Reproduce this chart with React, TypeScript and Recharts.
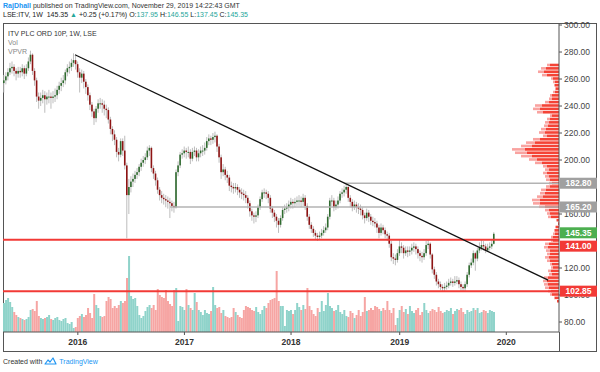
import { BarChart, ComposedChart, Bar, Cell, XAxis, YAxis, ReferenceLine } from "recharts";

// weekly closes, Apr 2015 .. Nov 2019 (open = previous close)
const FIRST_OPEN = 257;
const CLOSE = [
  259, 262, 265, 268, 269, 266, 264, 266, 265, 268,
  264, 268, 273, 278, 266, 259, 247, 244, 246, 248,
  245, 247, 247, 246, 247, 248, 252, 255, 257, 259,
  265, 268, 269, 272, 274, 271, 265, 261, 264, 258,
  254, 248, 241, 236, 231, 238, 242, 242, 241, 238,
  237, 230, 223, 219, 215, 206, 204, 214, 207, 196,
  174, 180, 184, 186, 189, 191, 195, 198, 200, 202,
  207, 209, 194, 190, 185, 178, 174, 172, 171, 170,
  169, 168, 166, 165, 191, 196, 204, 205, 207, 206,
  206, 201, 206, 207, 202, 205, 207, 207, 209, 214,
  216, 215, 217, 218, 210, 202, 191, 193, 189, 187,
  181, 180, 179, 180, 178, 176, 175, 174, 172, 168,
  162, 159, 158, 159, 165, 171, 176, 176, 175, 172,
  164, 161, 158, 155, 152, 157, 163, 164, 165, 167,
  169, 168, 169, 170, 170, 169, 172, 166, 158, 152,
  149, 146, 144, 143, 144, 146, 148, 150, 158, 170,
  170, 165, 167, 170, 175, 176, 178, 180, 172, 169,
  165, 167, 165, 164, 163, 159, 157, 161, 158, 155,
  154, 153, 150, 146, 150, 148, 145, 144, 138, 128,
  127, 126, 131, 136, 135, 131, 133, 132, 133, 135,
  136, 134, 131, 129, 128, 131, 137, 138, 130, 119,
  115, 110, 108, 106, 105, 106, 107, 109, 110, 109,
  110, 111, 108, 106, 105, 108, 115, 122, 124, 131,
  127, 133, 135, 137, 136, 133, 135, 136, 137.95, 145.35,
];
const HIGH = [
  263, 265, 268, 272, 273, 271, 268, 269, 269, 271,
  270, 271, 276, 281, 279, 268, 261, 250, 250, 252,
  251, 250, 252, 250, 251, 253, 255, 258, 261, 263,
  267, 271, 273, 275, 279, 277, 273, 268, 267, 266,
  260, 256, 250, 243, 238, 240, 245, 246, 245, 244,
  241, 239, 232, 225, 222, 217, 209, 216, 216, 218,
  198, 186, 188, 190, 192, 194, 197, 201, 203, 205,
  210, 211, 210, 196, 192, 187, 180, 177, 175, 174,
  173, 172, 170, 169, 193, 199, 206, 208, 210, 209,
  210, 208, 209, 210, 209, 208, 210, 211, 213, 217,
  219, 218, 220, 221, 219, 212, 204, 197, 195, 192,
  189, 184, 183, 183, 182, 180, 179, 178, 177, 174,
  170, 164, 161, 162, 167, 173, 178, 179, 178, 177,
  174, 166, 163, 160, 157, 159, 165, 167, 168, 170,
  172, 171, 172, 173, 174, 173, 175, 174, 168, 160,
  154, 151, 148, 146, 147, 149, 151, 153, 160, 172,
  174, 172, 170, 173, 177, 179, 181, 183, 181, 174,
  171, 170, 169, 168, 167, 165, 161, 164, 163, 160,
  158, 157, 155, 152, 153, 152, 150, 147, 146, 140,
  131, 130, 134, 141, 139, 137, 136, 136, 136, 138,
  139, 138, 136, 133, 132, 134, 140, 141, 139, 131,
  121, 117, 112, 110, 108, 109, 110, 112, 113, 112,
  114, 114, 113, 110, 108, 110, 117, 124, 127, 133,
  132, 135, 139, 141, 140, 138, 138, 139, 141, 146.55,
];
const LOW = [
  250, 256, 259, 263, 264, 262, 259, 261, 261, 262,
  260, 262, 266, 271, 263, 255, 243, 238, 240, 242,
  235, 241, 242, 238, 242, 243, 245, 249, 251, 254,
  256, 262, 264, 266, 269, 267, 261, 250, 257, 253,
  249, 244, 237, 232, 226, 228, 235, 238, 235, 233,
  231, 227, 219, 214, 211, 202, 199, 202, 203, 193,
  142, 160, 176, 180, 183, 186, 188, 192, 195, 197,
  200, 203, 191, 186, 181, 175, 170, 168, 167, 165,
  164, 157, 162, 161, 164, 188, 194, 201, 202, 201,
  202, 197, 199, 203, 199, 199, 202, 203, 204, 207,
  211, 211, 212, 213, 206, 198, 186, 188, 185, 183,
  177, 176, 175, 176, 174, 172, 171, 170, 168, 164,
  158, 155, 153, 154, 157, 163, 169, 172, 171, 168,
  161, 157, 154, 150, 146, 150, 155, 160, 161, 162,
  164, 164, 165, 166, 166, 165, 166, 163, 155, 149,
  146, 143, 141, 140, 141, 142, 144, 146, 148, 156,
  166, 162, 163, 164, 168, 172, 173, 175, 169, 165,
  162, 163, 161, 160, 159, 156, 153, 155, 154, 152,
  151, 150, 146, 142, 144, 145, 142, 140, 135, 125,
  123, 122, 124, 129, 131, 127, 129, 128, 129, 130,
  132, 130, 127, 125, 124, 126, 129, 134, 127, 116,
  112, 107, 105, 103.5, 103, 103, 104, 105, 107, 106,
  107, 108, 105, 103, 102.9, 103, 106, 113, 120, 122,
  118, 125, 131, 133, 133, 131, 132, 133, 134, 137.45,
];
// weekly volume, millions of shares
const VOLUME = [
  29, 32, 34, 30, 25, 20, 17, 15, 14, 13,
  12, 13, 15, 22, 23, 21, 31, 16, 14, 13,
  14, 15, 17, 13, 12, 14, 15, 12, 11, 13,
  14, 9, 8, 10, 4, 5, 14, 16, 18, 15,
  17, 24, 19, 14, 38, 27, 24, 16, 15, 16,
  31, 35, 33, 24, 26, 24, 27, 31, 29, 31,
  54, 76, 36, 33, 34, 26, 17, 14, 16, 21,
  25, 27, 24, 27, 22, 43, 37, 35, 34, 42,
  31, 28, 26, 42, 44, 11, 26, 25, 22, 43,
  27, 24, 22, 39, 30, 22, 20, 17, 22, 19,
  18, 21, 45, 27, 24, 25, 19, 22, 16, 15,
  14, 15, 24, 20, 17, 15, 14, 22, 26, 25,
  24, 22, 21, 25, 20, 18, 22, 26, 24, 29,
  32, 33, 34, 61, 31, 26, 26, 6, 22, 21,
  22, 18, 22, 29, 25, 22, 27, 23, 44, 26,
  22, 18, 16, 24, 20, 31, 21, 27, 39, 26,
  24, 21, 22, 27, 20, 18, 22, 16, 15, 21,
  19, 14, 17, 22, 16, 20, 35, 21, 22, 24,
  22, 26, 25, 23, 21, 24, 22, 31, 22, 19,
  24, 7, 14, 22, 26, 20, 23, 18, 26, 21,
  19, 22, 24, 17, 20, 29, 22, 19, 21, 23,
  22, 20, 25, 21, 19, 20, 22, 21, 24, 18,
  21, 23, 22, 24, 20, 18, 22, 20, 21, 24,
  22, 24, 19, 20, 22, 21, 19, 22, 21, 20,
];

const YEAR_TICKS = [36, 88, 140, 193, 245];
const YEAR_LABELS = ["2016", "2017", "2018", "2019", "2020"];
// 140 and 180 sit fully under the price tags
const PRICE_TICKS = [80, 100, 120, 160, 200, 220, 240, 260, 280, 300];

// volume profile rows (price level -> down / up volume)
const VP_ROWS = [
  104, 106.5, 109, 111.5, 114, 116.5, 119, 121.5, 124, 126.5,
  129, 131.5, 134, 136.5, 139, 141.5, 144, 146.5, 149, 151.5,
  154, 156.5, 159, 161.5, 164, 166.5, 169, 171.5, 174, 176.5,
  179, 181.5, 184, 186.5, 189, 191.5, 194, 196.5, 199, 201.5,
  204, 206.5, 209, 211.5, 214, 216.5, 219, 221.5, 224, 226.5,
  229, 231.5, 234, 236.5, 239, 241.5, 244, 246.5, 249, 251.5,
  254, 256.5, 259, 261.5, 264, 266.5, 269, 271.5, 274, 276.5,
  279,
];
const VP_DOWN = [
  9, 13, 15, 12, 6, 4, 4, 3, 4, 7,
  7, 10, 17, 19, 16, 7, 9, 10, 11, 13,
  14, 12, 19, 24, 27, 34, 32, 27, 22, 17,
  12, 10, 12, 10, 9, 7, 9, 13, 14, 16,
  19, 19, 14, 10, 9, 8, 2, 1, 3, 4,
  4, 6, 6, 10, 11, 9, 9, 10, 9, 7,
  6, 8, 7, 11, 12, 11, 10, 8, 7, 4,
  2,
];
const VP_UP = [
  3, 5, 6, 5, 2, 2, 1, 1, 2, 2,
  3, 4, 7, 7, 6, 2, 3, 4, 4, 5,
  6, 4, 7, 9, 11, 13, 12, 11, 8, 7,
  4, 4, 4, 4, 4, 3, 4, 5, 5, 6,
  8, 7, 6, 4, 3, 3, 1, 0, 1, 1,
  2, 2, 2, 4, 4, 4, 3, 4, 3, 2,
  2, 3, 3, 4, 4, 4, 4, 3, 2, 1,
  0,
];

const SUPPORT = [141, 102.85];
const RESIST = [
  { price: 182.8, from: 166 },
  { price: 165.2, from: 81 },
];
const TREND = [
  { x: 34.6, y: 278 },
  { x: 265.4, y: 111 },
];
const LAST = 145.35;

const X_DOMAIN = [-0.5, 270.7];
const Y_DOMAIN = [72.6, 301.5];
const FONT = "'Liberation Sans', Arial, sans-serif";
const RED = "#f23a36";
const TEAL = "#26a69a";

const weeks = CLOSE.map((c, i) => {
  const o = i === 0 ? FIRST_OPEN : CLOSE[i - 1];
  return {
    i,
    open: o,
    close: c,
    high: HIGH[i],
    low: LOW[i],
    range: [LOW[i], HIGH[i]],
    vol: VOLUME[i],
    up: c >= o,
  };
});

const profile = VP_ROWS.map((p, k) => ({ p, down: VP_DOWN[k], up: VP_UP[k] }));

const Candle = (props: any) => {
  const { x, y, width, height, payload } = props;
  const { open, close, high, low } = payload;
  const h = Math.abs(height);
  const top = height < 0 ? y + height : y;
  const ppu = h / (high - low || 1);
  const bodyTop = top + (high - Math.max(open, close)) * ppu;
  const bodyH = Math.max(1, Math.abs(open - close) * ppu);
  const cx = x + width / 2;
  return (
    <g>
      <line x1={cx} x2={cx} y1={top} y2={top + h} stroke="#bdbdbd" strokeWidth={1} />
      <rect
        x={x}
        y={bodyTop}
        width={width}
        height={bodyH}
        fill={close >= open ? "#2f6b2f" : "#8e1414"}
      />
    </g>
  );
};

// tag on the price scale; shift moves it off the line when two tags collide
const PriceTag = (props: any) => {
  const { viewBox, text, color, shift = 0 } = props;
  const y = viewBox.y + shift;
  const x = viewBox.x + viewBox.width;
  return (
    <g>
      <rect x={x + 1} y={y - 5.5} width={37} height={11} fill={color} />
      <text
        x={x + 19.5}
        y={y}
        dy="0.35em"
        textAnchor="middle"
        fill="#fff"
        fontSize={8.5}
        fontWeight="bold"
        fontFamily={FONT}
      >
        {text}
      </text>
    </g>
  );
};

const layer: React.CSSProperties = { position: "absolute", left: 0, top: 0 };
const plotMargin = { top: 23, right: 41, bottom: 40, left: 3 };

export default function App() {
  return (
    <div
      style={{
        position: "absolute",
        left: 0,
        top: 0,
        width: 600,
        height: 372,
        background: "#fff",
        overflow: "hidden",
        fontFamily: FONT,
      }}
    >
      {/* header */}
      <div style={{ position: "absolute", left: 3, top: 2, fontSize: 7, color: "#333", whiteSpace: "nowrap" }}>
        <span style={{ color: "#2196f3", fontWeight: "bold" }}>RajDhall</span> published on TradingView.com,
        November 29, 2019 14:22:43 GMT
      </div>
      <div style={{ position: "absolute", left: 3, top: 11, fontSize: 7, color: "#222", whiteSpace: "nowrap" }}>
        LSE:ITV, 1W&nbsp; 145.35 <span style={{ color: TEAL }}>▲</span> +0.25 (+0.17%) O:
        <span style={{ color: TEAL }}>137.95</span> H:<span style={{ color: TEAL }}>146.55</span> L:
        <span style={{ color: TEAL }}>137.45</span> C:<span style={{ color: TEAL }}>145.35</span>
      </div>

      {/* frame */}
      <div
        style={{
          position: "absolute",
          left: 3,
          top: 23,
          width: 594,
          height: 329,
          border: "1px solid #555",
          boxSizing: "border-box",
        }}
      />
      <div style={{ position: "absolute", left: 559, top: 332, width: 1, height: 20, background: "#555" }} />

      {/* volume */}
      <div style={layer}>
        <BarChart width={600} height={372} data={weeks} margin={plotMargin}>
          <XAxis dataKey="i" type="number" domain={X_DOMAIN} allowDataOverflow hide />
          <YAxis type="number" domain={[0, 309]} allowDataOverflow hide />
          <Bar dataKey="vol" barSize={2} isAnimationActive={false}>
            {weeks.map((w) => (
              <Cell key={w.i} fill={w.up ? "#8fd3ca" : "#f6a5a3"} />
            ))}
          </Bar>
        </BarChart>
      </div>

      {/* volume profile */}
      <div style={layer}>
        <BarChart width={600} height={372} data={profile} layout="vertical" margin={plotMargin}>
          <XAxis type="number" domain={[0, 556]} reversed allowDataOverflow hide />
          <YAxis type="number" dataKey="p" domain={Y_DOMAIN} allowDataOverflow hide />
          <Bar dataKey="down" stackId="vp" fill="#f44336" barSize={2.6} isAnimationActive={false} />
          <Bar dataKey="up" stackId="vp" fill="#f9a3a0" barSize={2.6} isAnimationActive={false} />
        </BarChart>
      </div>

      {/* candles, levels and axes */}
      <div style={layer}>
        <ComposedChart width={600} height={372} data={weeks} margin={{ top: 23, right: 0, bottom: 0, left: 3 }}>
          <XAxis
            dataKey="i"
            type="number"
            domain={X_DOMAIN}
            allowDataOverflow
            ticks={YEAR_TICKS}
            tickFormatter={(v) => YEAR_LABELS[YEAR_TICKS.indexOf(v)]}
            height={40}
            tickSize={3}
            tickMargin={4}
            axisLine={{ stroke: "#555" }}
            tickLine={{ stroke: "#555" }}
            tick={{ fontSize: 8.5, fontWeight: "bold", fill: "#333", fontFamily: FONT }}
          />
          <YAxis
            orientation="right"
            type="number"
            domain={Y_DOMAIN}
            allowDataOverflow
            ticks={PRICE_TICKS}
            tickFormatter={(v) => v.toFixed(2)}
            width={41}
            tickSize={3}
            tickMargin={2}
            axisLine={{ stroke: "#555" }}
            tickLine={{ stroke: "#555" }}
            tick={{ fontSize: 8.5, fill: "#444", fontFamily: FONT }}
          />
          <Bar dataKey="range" barSize={1.6} shape={<Candle />} isAnimationActive={false} />
          {RESIST.map((r) => (
            <ReferenceLine
              key={r.price}
              segment={[
                { x: r.from, y: r.price },
                { x: X_DOMAIN[1], y: r.price },
              ]}
              stroke="#b3b3b3"
              strokeWidth={1.5}
            />
          ))}
          {SUPPORT.map((s) => (
            <ReferenceLine key={s} y={s} stroke={RED} strokeWidth={2} />
          ))}
          <ReferenceLine segment={TREND} stroke="#111" strokeWidth={1.3} />
        </ComposedChart>
      </div>

      {/* price tags on the scale, above the tick labels */}
      <div style={layer}>
        <ComposedChart width={600} height={372} data={weeks} margin={plotMargin}>
          <XAxis dataKey="i" type="number" domain={X_DOMAIN} allowDataOverflow hide />
          <YAxis type="number" domain={Y_DOMAIN} allowDataOverflow hide />
          {RESIST.map((r) => (
            <ReferenceLine
              key={"t" + r.price}
              y={r.price}
              stroke="none"
              label={<PriceTag text={r.price.toFixed(2)} color="#a0a0a0" />}
            />
          ))}
          <ReferenceLine
            y={LAST}
            stroke="none"
            label={<PriceTag text={LAST.toFixed(2)} color="#4caf50" shift={-1} />}
          />
          {SUPPORT.map((s, k) => (
            <ReferenceLine
              key={"t" + s}
              y={s}
              stroke="none"
              label={<PriceTag text={s.toFixed(2)} color={RED} shift={k === 0 ? 6.5 : 0} />}
            />
          ))}
        </ComposedChart>
      </div>

      {/* legend */}
      <div style={{ position: "absolute", left: 8, top: 29, fontSize: 7, lineHeight: "9px", whiteSpace: "nowrap" }}>
        <div style={{ color: "#333" }}>ITV PLC ORD 10P, 1W, LSE</div>
        <div style={{ color: "#888" }}>Vol</div>
        <div style={{ color: "#888" }}>VPVR</div>
      </div>

      {/* footer */}
      <div
        style={{
          position: "absolute",
          left: 3,
          top: 357,
          fontSize: 7,
          color: "#333",
          whiteSpace: "nowrap",
          display: "flex",
          alignItems: "center",
          gap: 2,
        }}
      >
        <span>Created with</span>
        <svg width={13} height={8} viewBox="0 0 13 8">
          <path
            d="M1 7 L4 3 L6 5 L9 1 L12 7 Z"
            fill="none"
            stroke="#2196f3"
            strokeWidth={1.2}
            strokeLinejoin="round"
          />
        </svg>
        <span style={{ color: "#2196f3" }}>TradingView</span>
      </div>
    </div>
  );
}
